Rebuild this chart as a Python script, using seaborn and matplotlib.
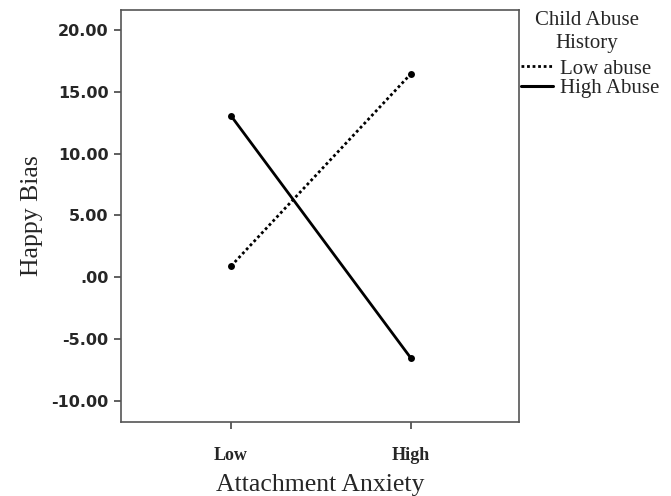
import matplotlib
matplotlib.use("Agg")
import matplotlib.pyplot as plt
import seaborn as sns
import pandas as pd
from matplotlib.lines import Line2D

anxiety = ["Low", "High"]
low_abuse = [0.9, 16.45]
high_abuse = [13.05, -6.55]
groups = ["Low abuse", "High Abuse"]
legend_title = "Child Abuse\nHistory"
yticks = [-10, -5, 0, 5, 10, 15, 20]
ytick_labels = ["-10.00", "-5.00", ".00", "5.00", "10.00", "15.00", "20.00"]

df = pd.DataFrame({
    "x": [0, 1, 0, 1],
    "y": low_abuse + high_abuse,
    "group": [groups[0]] * 2 + [groups[1]] * 2,
})

sns.set_style("white")
fig = plt.figure(figsize=(6.71, 4.96), dpi=100)
ax = fig.add_axes([121 / 671, 1 - 422 / 496, 398 / 671, 412 / 496])

sns.lineplot(data=df, x="x", y="y", hue="group", style="group",
             hue_order=groups, style_order=groups,
             palette=["black", "black"],
             dashes={groups[0]: (1, 1), groups[1]: ""},
             markers={groups[0]: "o", groups[1]: "o"},
             markersize=5, markeredgewidth=0, linewidth=2, ax=ax, legend=False)

ax.set_xlim(-0.611, 1.6)
ax.set_ylim(-11.7, 21.6)
ax.set_xticks([0, 1])
ax.set_xticklabels(anxiety, fontfamily="Liberation Serif", fontweight="bold", fontsize=13)
ax.set_yticks(yticks)
ax.set_yticklabels(ytick_labels, fontfamily="DejaVu Sans", fontweight="bold", fontsize=11.5)
ax.tick_params(axis="both", direction="out", length=5, width=1.2, color="#444444", pad=4, bottom=True, left=True)
ax.tick_params(axis="x", pad=13)
for s in ax.spines.values():
    s.set_color("#555555")
    s.set_linewidth(1.2)

ax.set_xlabel("Attachment Anxiety", fontfamily="Liberation Serif", fontsize=18.5, labelpad=7)
ax.set_ylabel("Happy Bias", fontfamily="Liberation Serif", fontsize=18.5, labelpad=6)

fig.text(587 / 671, 1 - 32 / 496, legend_title, ha="center", va="center",
         fontfamily="Liberation Serif", fontsize=15, linespacing=1.3)

handles = [Line2D([], [], color="black", linestyle=(0, (1, 1)), linewidth=2),
           Line2D([], [], color="black", linestyle="-", linewidth=2.2)]
leg = fig.legend(handles, groups,
                 loc="upper left", bbox_to_anchor=(521 / 671, 1 - 59 / 496),
                 frameon=False, handlelength=1.55, handletextpad=0.3,
                 borderaxespad=0, borderpad=0.0, labelspacing=0.0,
                 prop={"family": "Liberation Serif", "size": 15})

fig.savefig("out.png", dpi=100)
